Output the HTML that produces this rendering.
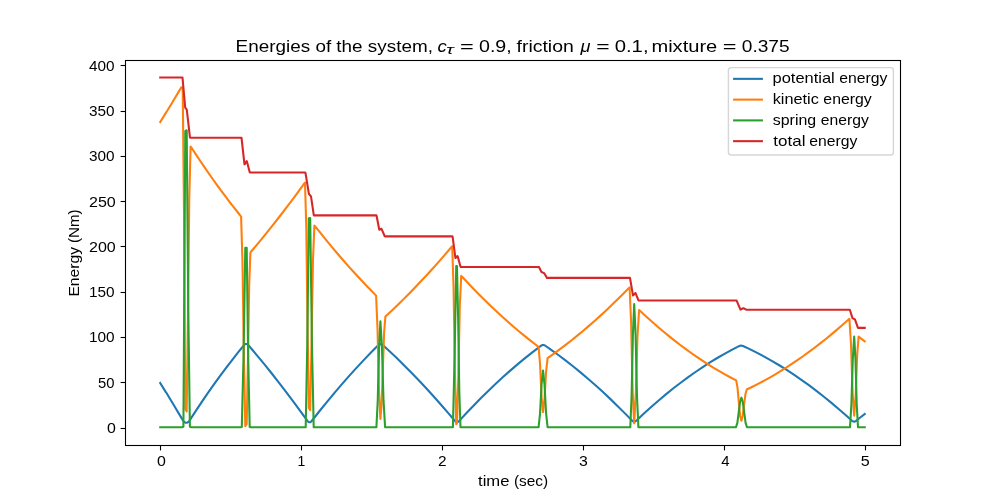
<!DOCTYPE html>
<html><head><meta charset="utf-8"><title>Energies of the system</title>
<style>html,body{margin:0;padding:0;background:#fff;}body{width:1000px;height:500px;position:relative;overflow:hidden;font-family:"Liberation Sans",sans-serif;}</style></head>
<body>
<svg width="1000" height="500" viewBox="0 0 1000 500" style="position:absolute;left:0;top:0;will-change:transform" font-family="Liberation Sans, sans-serif" fill="#000">
<rect x="0" y="0" width="1000" height="500" fill="#fff"/>
<defs><clipPath id="ax"><rect x="125" y="60" width="775" height="385"/></clipPath></defs>
<g clip-path="url(#ax)" fill="none" stroke-width="2.08" stroke-linejoin="round" stroke-linecap="square">
<polyline stroke="#1f77b4" points="160.23,383.00 165.98,392.34 166.23,392.55 173.73,404.93 180.98,417.13 182.73,420.08 183.48,421.12 184.23,421.91 184.98,422.46 185.73,422.76 186.48,422.82 187.23,422.64 187.98,422.21 188.73,421.54 189.48,420.62 196.48,409.90 202.48,400.94 208.48,392.21 214.48,383.70 220.48,375.43 226.48,367.37 232.48,359.55 238.48,351.95 243.98,345.19 244.48,344.68 244.98,344.30 245.48,344.05 245.98,343.93 246.48,343.95 246.98,344.09 247.48,344.37 247.98,344.78 249.48,346.49 256.98,355.34 264.48,364.43 271.98,373.74 279.48,383.28 286.98,393.05 294.48,403.05 301.98,413.28 307.48,420.92 307.98,421.48 308.48,421.90 308.98,422.16 309.48,422.28 309.98,422.25 310.48,422.06 310.98,421.73 311.48,421.25 319.98,410.49 327.23,401.54 334.48,392.83 341.73,384.35 348.98,376.11 356.23,368.11 363.48,360.34 370.73,352.81 377.98,345.51 378.73,344.81 379.48,344.33 380.23,344.09 380.98,344.08 381.73,344.31 382.48,344.78 388.73,350.50 396.23,357.59 403.73,364.91 411.23,372.45 418.73,380.23 426.23,388.24 433.73,396.48 441.23,404.94 448.73,413.64 454.98,421.04 455.48,421.50 455.98,421.83 456.48,422.03 456.98,422.11 457.48,422.05 457.98,421.87 458.48,421.57 458.98,421.13 466.73,412.78 473.98,405.19 481.23,397.82 488.48,390.69 495.73,383.78 502.98,377.10 510.23,370.64 517.48,364.41 524.73,358.41 531.98,352.64 539.23,347.09 541.23,345.62 541.98,345.23 542.73,345.03 543.48,345.01 544.23,345.16 544.98,345.49 550.48,349.30 557.98,354.73 565.48,360.38 572.98,366.27 580.48,372.38 587.98,378.72 595.48,385.30 602.98,392.10 610.48,399.13 617.98,406.39 625.48,413.88 632.23,420.80 632.98,421.33 633.73,421.62 634.48,421.66 635.23,421.45 635.98,420.99 644.73,412.81 651.98,406.27 659.23,399.97 666.48,393.90 673.73,388.06 680.98,382.47 688.23,377.10 695.48,371.98 702.73,367.08 709.98,362.43 717.23,358.01 724.48,353.82 731.73,349.87 738.98,346.16 739.98,345.79 740.98,345.63 741.98,345.69 742.98,345.96 749.23,348.87 756.73,352.61 764.23,356.58 771.73,360.80 779.23,365.25 786.73,369.94 794.23,374.87 801.73,380.04 809.23,385.44 816.73,391.09 824.23,396.97 831.73,403.09 839.23,409.45 846.73,416.05 851.98,420.79 852.73,421.29 853.48,421.57 854.23,421.63 854.98,421.48 855.73,421.12 858.73,418.78 858.98,418.48 864.73,414.03"/>
<polyline stroke="#ff7f0e" points="160.23,122.00 165.84,112.89 167.25,110.79 172.86,101.52 178.47,92.12 181.29,87.34 182.70,87.29 184.00,211.93 185.30,409.18 186.70,411.39 188.00,314.85 189.30,196.55 190.60,146.56 192.01,148.46 196.23,154.91 200.43,161.23 204.64,167.42 208.84,173.51 213.05,179.49 217.25,185.35 221.46,191.10 225.66,196.74 229.87,202.27 234.07,207.68 238.28,213.00 239.69,214.75 241.10,216.65 242.50,262.72 243.90,356.73 245.30,426.15 246.70,424.22 247.94,361.75 249.17,286.31 250.40,252.61 251.81,250.74 257.42,244.08 263.02,237.31 268.61,230.42 274.20,223.41 279.80,216.26 285.39,208.99 290.98,201.59 296.58,194.06 302.18,186.39 303.59,184.44 305.00,182.60 306.27,226.83 307.53,324.97 308.80,407.79 310.20,410.15 311.60,341.42 313.00,259.67 314.40,225.58 315.81,227.16 321.43,234.22 327.03,241.12 332.64,247.88 338.24,254.50 343.85,260.98 349.45,267.32 355.06,273.51 360.66,279.57 366.27,285.48 371.87,291.26 374.69,294.11 376.10,295.64 377.53,328.91 378.97,390.66 380.40,418.85 381.65,403.01 382.90,367.53 384.15,331.79 385.40,316.57 386.81,315.18 392.47,309.89 398.17,304.45 403.86,298.87 409.55,293.16 415.24,287.31 420.93,281.34 426.63,275.23 432.32,268.99 438.01,262.62 443.70,256.11 449.38,249.49 452.20,246.18 453.55,287.27 454.90,371.29 456.25,424.18 456.95,423.36 458.37,375.66 459.78,306.80 461.20,275.89 462.61,277.31 468.24,283.32 473.87,289.20 479.50,294.94 485.13,300.54 490.75,306.01 496.38,311.33 502.01,316.52 507.64,321.58 513.27,326.50 518.90,331.28 524.52,335.92 530.15,340.43 535.78,344.80 537.19,345.87 538.60,347.00 540.07,364.53 541.53,396.75 543.00,412.05 544.53,398.63 546.07,371.89 547.60,358.17 549.01,357.14 554.66,353.11 560.31,348.94 565.97,344.64 571.63,340.21 577.29,335.65 582.94,330.96 588.60,326.14 594.26,321.19 599.91,316.11 605.57,310.90 611.23,305.55 616.89,300.08 622.54,294.48 628.19,288.75 629.60,287.42 631.13,323.30 632.67,392.30 634.20,423.33 635.83,392.62 637.47,336.66 639.10,310.04 640.51,311.27 646.14,316.48 651.77,321.54 657.40,326.46 663.03,331.24 668.65,335.88 674.28,340.37 679.91,344.72 685.54,348.93 691.17,353.00 696.80,356.93 702.42,360.71 708.05,364.36 713.68,367.86 719.31,371.22 724.94,374.43 730.57,377.51 736.20,380.45 737.50,387.62 738.80,401.87 740.10,415.94 741.40,420.67 742.75,415.47 744.10,404.47 745.45,394.08 746.80,389.50 752.43,386.76 758.05,383.91 763.67,380.92 769.29,377.80 774.91,374.54 780.54,371.15 786.16,367.63 791.78,363.97 797.40,360.18 803.02,356.25 808.64,352.19 814.26,348.00 819.88,343.67 825.50,339.21 831.12,334.61 836.74,329.89 842.36,325.02 849.40,318.79 851.00,343.79 852.60,392.54 854.20,415.69 855.67,395.74 857.13,355.72 858.60,336.61 862.83,339.91 864.77,341.37"/>
<polyline stroke="#2ca02c" points="160.23,427.30 181.99,427.30 183.40,426.73 185.30,131.10 186.70,130.26 188.30,310.96 189.90,426.82 191.31,427.30 240.39,427.30 241.80,427.06 243.55,355.94 245.30,247.89 246.70,247.77 248.20,357.85 249.70,427.09 251.11,427.30 304.29,427.30 305.70,427.27 307.25,345.88 308.80,218.20 310.20,217.96 311.95,344.15 313.70,427.12 315.11,427.30 374.99,427.30 376.40,427.23 377.73,400.72 379.07,347.69 380.40,321.20 381.97,347.60 383.53,400.66 385.10,427.21 386.51,427.30 451.49,427.30 452.90,427.17 454.58,356.91 456.25,265.93 456.95,265.97 458.13,317.93 459.32,392.40 460.50,427.29 537.19,427.30 538.60,427.24 540.07,413.03 541.53,384.67 543.00,370.43 544.53,384.66 546.07,413.03 547.60,427.25 549.01,427.30 628.89,427.30 630.30,427.12 631.60,396.32 632.90,334.96 634.20,304.13 635.60,334.96 637.00,396.43 638.40,427.14 639.81,427.30 736.00,427.29 737.35,422.92 740.05,401.97 741.40,397.63 742.80,401.97 745.60,422.92 747.00,427.30 848.59,427.30 850.00,427.25 851.40,404.51 852.80,359.28 854.20,336.59 855.47,359.23 856.73,404.59 858.00,427.29 864.77,427.30"/>
<polyline stroke="#d62728" points="160.23,77.50 182.48,77.50 182.73,80.06 184.98,105.15 185.23,107.64 186.73,109.61 186.98,111.27 189.98,137.52 190.23,137.70 241.48,137.70 241.73,139.75 244.48,164.32 244.73,164.15 246.73,161.11 246.98,161.69 249.73,172.18 249.98,172.45 305.23,172.45 305.48,172.94 308.73,192.86 308.98,194.00 310.98,196.38 311.23,197.96 313.73,214.93 313.98,215.40 376.48,215.40 376.73,216.58 379.23,229.44 379.48,229.72 381.48,228.81 381.98,229.91 384.73,236.24 384.98,236.40 452.48,236.40 452.73,237.40 455.23,256.69 455.48,257.93 457.48,256.11 457.73,256.48 460.48,266.56 460.73,267.00 538.98,267.00 539.73,268.52 541.23,271.65 541.48,272.03 543.98,273.11 544.23,273.25 546.98,277.87 549.23,277.90 629.98,277.90 630.23,279.25 632.98,295.38 633.23,295.27 635.48,293.02 635.73,293.58 638.48,300.45 638.98,300.50 736.48,300.50 736.73,300.81 740.23,309.19 740.48,309.56 743.23,308.28 743.48,308.24 746.23,309.70 849.73,309.70 849.98,310.27 852.48,318.14 852.98,318.45 854.98,319.49 855.48,320.84 857.98,327.84 858.48,327.90 864.73,327.90"/>
</g>
<g stroke="#000" stroke-width="1.1" fill="none" stroke-linecap="square">
<rect x="125.5" y="60.5" width="775" height="385"/>
<line x1="120.6" y1="428.5" x2="125" y2="428.5" stroke-linecap="butt"/>
<line x1="120.6" y1="382.5" x2="125" y2="382.5" stroke-linecap="butt"/>
<line x1="120.6" y1="337.5" x2="125" y2="337.5" stroke-linecap="butt"/>
<line x1="120.6" y1="292.5" x2="125" y2="292.5" stroke-linecap="butt"/>
<line x1="120.6" y1="246.5" x2="125" y2="246.5" stroke-linecap="butt"/>
<line x1="120.6" y1="201.5" x2="125" y2="201.5" stroke-linecap="butt"/>
<line x1="120.6" y1="156.5" x2="125" y2="156.5" stroke-linecap="butt"/>
<line x1="120.6" y1="111.5" x2="125" y2="111.5" stroke-linecap="butt"/>
<line x1="120.6" y1="65.5" x2="125" y2="65.5" stroke-linecap="butt"/>
<line x1="160.5" y1="446" x2="160.5" y2="450.4" stroke-linecap="butt"/>
<line x1="301.5" y1="446" x2="301.5" y2="450.4" stroke-linecap="butt"/>
<line x1="442.5" y1="446" x2="442.5" y2="450.4" stroke-linecap="butt"/>
<line x1="583.5" y1="446" x2="583.5" y2="450.4" stroke-linecap="butt"/>
<line x1="724.5" y1="446" x2="724.5" y2="450.4" stroke-linecap="butt"/>
<line x1="865.5" y1="446" x2="865.5" y2="450.4" stroke-linecap="butt"/>
</g>
<g>
<text x="89.04" y="71.10" font-size="14.3" textLength="25.60" lengthAdjust="spacingAndGlyphs" >400</text>
<text x="89.04" y="116.10" font-size="14.3" textLength="25.60" lengthAdjust="spacingAndGlyphs" >350</text>
<text x="89.04" y="161.10" font-size="14.3" textLength="25.60" lengthAdjust="spacingAndGlyphs" >300</text>
<text x="89.00" y="207.10" font-size="14.3" textLength="26.79" lengthAdjust="spacingAndGlyphs" >250</text>
<text x="89.00" y="252.10" font-size="14.3" textLength="26.79" lengthAdjust="spacingAndGlyphs" >200</text>
<text x="89.00" y="297.10" font-size="14.3" textLength="25.67" lengthAdjust="spacingAndGlyphs" >150</text>
<text x="89.00" y="342.10" font-size="14.3" textLength="25.67" lengthAdjust="spacingAndGlyphs" >100</text>
<text x="98.06" y="388.10" font-size="14.3" textLength="16.49" lengthAdjust="spacingAndGlyphs" >50</text>
<text x="106.92" y="433.10" font-size="14.3" textLength="8.86" lengthAdjust="spacingAndGlyphs" >0</text>
<text x="157.02" y="466.10" font-size="14.3" textLength="8.86" lengthAdjust="spacingAndGlyphs" >0</text>
<text x="297.52" y="466.10" font-size="14.3" textLength="7.77" lengthAdjust="spacingAndGlyphs" >1</text>
<text x="437.93" y="466.10" font-size="14.3" textLength="8.57" lengthAdjust="spacingAndGlyphs" >2</text>
<text x="579.02" y="466.10" font-size="14.3" textLength="8.79" lengthAdjust="spacingAndGlyphs" >3</text>
<text x="721.24" y="466.10" font-size="14.3" textLength="8.32" lengthAdjust="spacingAndGlyphs" >4</text>
<text x="860.79" y="466.10" font-size="14.3" textLength="8.94" lengthAdjust="spacingAndGlyphs" >5</text>
<text x="478.03" y="485.80" font-size="14.3" textLength="31.42" lengthAdjust="spacingAndGlyphs" >time</text>
<text x="513.99" y="485.80" font-size="14.3" textLength="34.22" lengthAdjust="spacingAndGlyphs" >(sec)</text>
<text transform="translate(79.10,296.60) rotate(-90)" x="0" y="0" font-size="14.3" textLength="49.74" lengthAdjust="spacingAndGlyphs" >Energy</text>
<text transform="translate(79.10,243.00) rotate(-90)" x="0" y="0" font-size="14.3" textLength="33.60" lengthAdjust="spacingAndGlyphs" >(Nm)</text>
<text x="235.64" y="52.10" font-size="17.1" textLength="197.28" lengthAdjust="spacingAndGlyphs" >Energies of the system,</text>
<text x="437.56" y="52.10" font-size="17.1" textLength="9.26" lengthAdjust="spacingAndGlyphs" font-style="italic">c</text>
<text x="446.29" y="53.90" font-size="12.0" textLength="7.50" lengthAdjust="spacingAndGlyphs" font-style="italic">τ</text>
<text x="460.04" y="52.10" font-size="17.1" textLength="13.73" lengthAdjust="spacingAndGlyphs" >=</text>
<text x="478.98" y="52.10" font-size="17.1" textLength="32.73" lengthAdjust="spacingAndGlyphs" >0.9,</text>
<text x="516.52" y="52.10" font-size="17.1" textLength="57.29" lengthAdjust="spacingAndGlyphs" >friction</text>
<text x="580.48" y="52.10" font-size="17.1" textLength="9.94" lengthAdjust="spacingAndGlyphs" font-style="italic">μ</text>
<text x="596.37" y="52.10" font-size="17.1" textLength="13.37" lengthAdjust="spacingAndGlyphs" >=</text>
<text x="614.70" y="52.10" font-size="17.1" textLength="33.86" lengthAdjust="spacingAndGlyphs" >0.1,</text>
<text x="651.42" y="52.10" font-size="17.1" textLength="65.89" lengthAdjust="spacingAndGlyphs" >mixture</text>
<text x="722.84" y="52.10" font-size="17.1" textLength="13.73" lengthAdjust="spacingAndGlyphs" >=</text>
<text x="741.80" y="52.10" font-size="17.1" textLength="47.83" lengthAdjust="spacingAndGlyphs" >0.375</text>
</g>
<rect x="728.4" y="67.6" width="165" height="87.4" rx="2.8" ry="2.8" fill="#fff" fill-opacity="0.8" stroke="#ccc" stroke-opacity="0.8" stroke-width="1.39"/>
<g>
<line x1="734.1" y1="78.85" x2="761.9" y2="78.85" stroke="#1f77b4" stroke-width="2.08" stroke-linecap="square"/>
<text x="772.49" y="82.70" font-size="14.3" textLength="62.27" lengthAdjust="spacingAndGlyphs" >potential</text>
<text x="839.16" y="82.70" font-size="14.3" textLength="48.21" lengthAdjust="spacingAndGlyphs" >energy</text>
<line x1="734.1" y1="99.62" x2="761.9" y2="99.62" stroke="#ff7f0e" stroke-width="2.08" stroke-linecap="square"/>
<text x="772.68" y="104.10" font-size="14.3" textLength="46.19" lengthAdjust="spacingAndGlyphs" >kinetic</text>
<text x="823.36" y="104.10" font-size="14.3" textLength="48.41" lengthAdjust="spacingAndGlyphs" >energy</text>
<line x1="734.1" y1="120.39" x2="761.9" y2="120.39" stroke="#2ca02c" stroke-width="2.08" stroke-linecap="square"/>
<text x="772.77" y="124.70" font-size="14.3" textLength="43.41" lengthAdjust="spacingAndGlyphs" >spring</text>
<text x="820.66" y="124.70" font-size="14.3" textLength="48.09" lengthAdjust="spacingAndGlyphs" >energy</text>
<line x1="734.1" y1="141.16" x2="761.9" y2="141.16" stroke="#d62728" stroke-width="2.08" stroke-linecap="square"/>
<text x="773.33" y="146.00" font-size="14.3" textLength="32.10" lengthAdjust="spacingAndGlyphs" >total</text>
<text x="809.36" y="146.00" font-size="14.3" textLength="48.09" lengthAdjust="spacingAndGlyphs" >energy</text>
</g>
</svg>
</body></html>
